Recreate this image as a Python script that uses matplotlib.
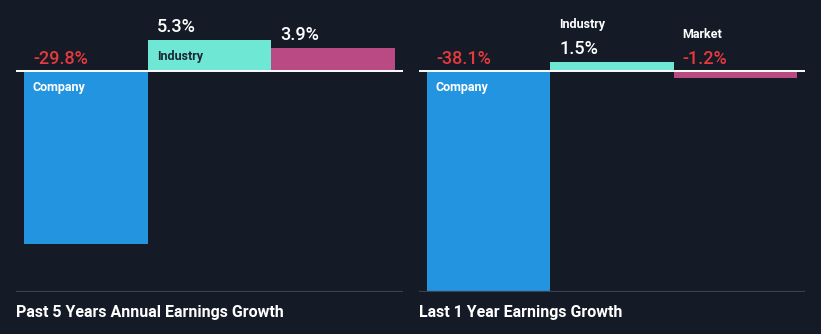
import matplotlib

matplotlib.use("Agg")
import matplotlib.pyplot as plt

# ── Data ─────────────────────────────────────────────────────────────────────
categories = ["Company", "Industry", "Market"]
past5y_growth = [-29.8, 5.3, 3.9]
last1y_growth = [-38.1, 1.5, -1.2]
panel_titles = ["Past 5 Years Annual Earnings Growth", "Last 1 Year Earnings Growth"]
# where each bar's name is written: inside the bar, above the value, or not at all
past5y_names = ["inside", "inside", None]
last1y_names = ["inside", "above", "above"]

BG = "#151b26"
BAR_COLORS = ["#2394df", "#6ee8d4", "#b94a84"]
NAME_INSIDE_COLORS = ["#ffffff", "#1b2733", "#ffffff"]
RED = "#e5393c"
WHITE = "#ffffff"
GRID = "#3a404c"

W, H = 821, 334
DPI = 100
plt.rcParams["font.family"] = ["Roboto", "DejaVu Sans"]

fig = plt.figure(figsize=(W / DPI, H / DPI), dpi=DPI, facecolor=BG)

# pixel layout: axes from top edge down to the bottom rule
panel_x = [(16, 403), (419, 805)]
y_top, y_bottom = 0, 292
ymin = min(min(past5y_growth), min(last1y_growth))
px_per_unit = (y_bottom - 71) / -ymin
ymax = 71 / px_per_unit
pad = 8 / 123.7

panels = [(past5y_growth, past5y_names), (last1y_growth, last1y_names)]
for (x0, x1), (values, names), title in zip(panel_x, panels, panel_titles):
    ax = fig.add_axes([x0 / W, 1 - y_bottom / H, (x1 - x0) / W, (y_bottom - y_top) / H])
    ax.set_facecolor(BG)
    xs = range(len(categories))
    ax.bar(xs, values, width=1.0, color=BAR_COLORS, linewidth=0)
    ax.set_xlim(-0.5 - pad, len(categories) - 0.5 + pad)
    ax.set_ylim(ymin, ymax)
    ax.axhline(0, color=WHITE, lw=1.4, zorder=3)
    ax.axhline(ymin, color=GRID, lw=1.6, zorder=3)
    for s in ax.spines.values():
        s.set_visible(False)
    ax.set_xticks([])
    ax.set_yticks([])

    for i, (v, name) in enumerate(zip(values, names)):
        left = i - 0.5
        anchor = max(v, 0)
        vcol = RED if v < 0 else WHITE
        val_dy = 13 if v >= 0 else 12
        ax.annotate(f"{v:.1f}%", xy=(left, anchor), xytext=(9, val_dy),
                    textcoords="offset pixels", ha="left", va="center",
                    fontsize=13, fontweight="medium", color=vcol,
                    annotation_clip=False)
        if name == "inside":
            top = v if v > 0 else 0
            ax.annotate(categories[i], xy=(left, top), xytext=(9, -16),
                        textcoords="offset pixels", ha="left", va="center",
                        fontsize=9, fontweight="bold", color=NAME_INSIDE_COLORS[i],
                        annotation_clip=False)
        elif name == "above":
            ax.annotate(categories[i], xy=(left, anchor), xytext=(9, val_dy + 25),
                        textcoords="offset pixels", ha="left", va="center",
                        fontsize=9, fontweight="bold", color=WHITE,
                        annotation_clip=False)

    fig.text(x0 / W, 1 - 312 / H, title, ha="left", va="center",
             fontsize=11.5, fontweight="bold", color=WHITE)

fig.savefig("out.png", dpi=DPI, facecolor=BG)
